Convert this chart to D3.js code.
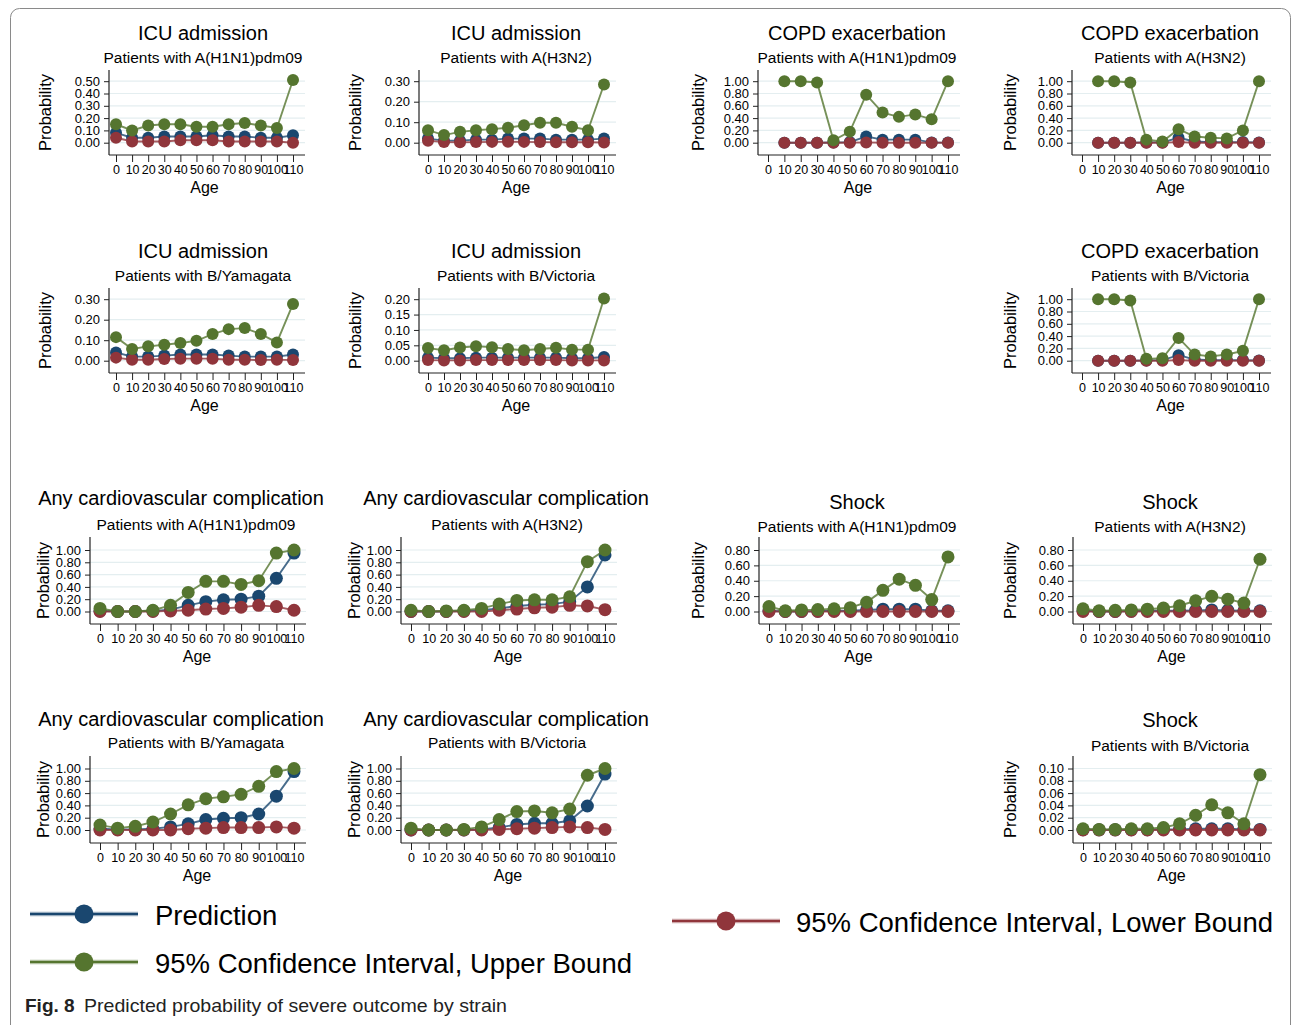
<!DOCTYPE html>
<html>
<head>
<meta charset="utf-8">
<script src="https://cdn.jsdelivr.net/npm/d3@7"></script>
<style>
  html, body { margin: 0; padding: 0; background: #fff; }
  svg { display: block; }
  text { font-family: "Liberation Sans", Arial, sans-serif; fill: #000; }
</style>
</head>
<body>
<svg id="fig" width="1292" height="1025"></svg>
<script>
// Age points on the x axis
const ages = [0, 10, 20, 30, 40, 50, 60, 70, 80, 90, 100, 110];
const ageTickLabels = ["0", "10", "20", "30", "40", "50", "60", "70", "80", "90", "100", "110"];

// ICU admission
const icuH1N1Pred  = [0.08, 0.04, 0.04, 0.05, 0.05, 0.05, 0.06, 0.05, 0.05, 0.04, 0.04, 0.06];
const icuH1N1Lower = [0.04, 0.01, 0.01, 0.01, 0.02, 0.02, 0.02, 0.01, 0.01, 0.01, 0.01, 0.00];
const icuH1N1Upper = [0.15, 0.10, 0.14, 0.15, 0.15, 0.13, 0.13, 0.15, 0.16, 0.14, 0.12, 0.51];

const icuH3N2Pred  = [0.020, 0.010, 0.010, 0.015, 0.015, 0.020, 0.020, 0.020, 0.015, 0.015, 0.015, 0.020];
const icuH3N2Lower = [0.010, 0.003, 0.002, 0.003, 0.004, 0.005, 0.004, 0.003, 0.002, 0.002, 0.002, 0.001];
const icuH3N2Upper = [0.061, 0.037, 0.053, 0.061, 0.066, 0.073, 0.085, 0.097, 0.097, 0.078, 0.061, 0.284];

const icuYamPred  = [0.040, 0.020, 0.020, 0.025, 0.030, 0.030, 0.030, 0.025, 0.020, 0.020, 0.020, 0.030];
const icuYamLower = [0.015, 0.005, 0.005, 0.008, 0.010, 0.010, 0.010, 0.005, 0.005, 0.003, 0.005, 0.003];
const icuYamUpper = [0.115, 0.057, 0.070, 0.078, 0.086, 0.097, 0.130, 0.154, 0.159, 0.130, 0.089, 0.277];

const icuVicPred  = [0.010, 0.008, 0.008, 0.010, 0.010, 0.010, 0.010, 0.010, 0.010, 0.008, 0.008, 0.012];
const icuVicLower = [0.002, 0.001, 0.001, 0.002, 0.002, 0.002, 0.002, 0.002, 0.002, 0.001, 0.001, 0.001];
const icuVicUpper = [0.041, 0.034, 0.043, 0.047, 0.044, 0.038, 0.034, 0.038, 0.042, 0.036, 0.036, 0.202];

// COPD exacerbation (no estimate at age 0)
const copdH1N1Pred  = [null, 0, 0, 0, 0.003, 0.010, 0.100, 0.050, 0.050, 0.050, 0.005, 0.002];
const copdH1N1Lower = [null, 0, 0, 0, 0, 0, 0.005, 0, 0, 0, 0, 0];
const copdH1N1Upper = [null, 1.00, 1.00, 0.98, 0.04, 0.18, 0.78, 0.49, 0.42, 0.46, 0.38, 1.00];

const copdH3N2Pred  = [null, 0, 0, 0, 0.005, 0.005, 0.080, 0.020, 0.010, 0.010, 0.010, 0.003];
const copdH3N2Lower = [null, 0, 0, 0, 0, 0, 0.010, 0, 0, 0, 0, 0];
const copdH3N2Upper = [null, 1.00, 1.00, 0.98, 0.05, 0.02, 0.22, 0.10, 0.08, 0.07, 0.20, 1.00];

const copdVicPred  = [null, 0, 0, 0, 0.005, 0.010, 0.090, 0.020, 0.010, 0.010, 0.010, 0.003];
const copdVicLower = [null, 0, 0, 0, 0, 0, 0.010, 0, 0, 0, 0, 0];
const copdVicUpper = [null, 1.00, 1.00, 0.98, 0.03, 0.04, 0.37, 0.10, 0.07, 0.10, 0.16, 1.00];

// Any cardiovascular complication
const cvH1N1Pred  = [0.01, 0.00, 0.00, 0.01, 0.03, 0.10, 0.16, 0.19, 0.20, 0.25, 0.54, 0.95];
const cvH1N1Lower = [0.00, 0.00, 0.00, 0.00, 0.01, 0.02, 0.04, 0.05, 0.07, 0.10, 0.08, 0.02];
const cvH1N1Upper = [0.05, 0.00, 0.00, 0.02, 0.10, 0.31, 0.49, 0.49, 0.44, 0.50, 0.95, 1.00];

const cvH3N2Pred  = [0.00, 0.00, 0.00, 0.01, 0.02, 0.05, 0.09, 0.11, 0.12, 0.16, 0.40, 0.92];
const cvH3N2Lower = [0.00, 0.00, 0.00, 0.00, 0.00, 0.02, 0.04, 0.06, 0.07, 0.10, 0.09, 0.03];
const cvH3N2Upper = [0.02, 0.00, 0.01, 0.02, 0.05, 0.12, 0.18, 0.19, 0.19, 0.24, 0.81, 1.00];

const cvYamPred  = [0.02, 0.01, 0.01, 0.02, 0.05, 0.10, 0.17, 0.19, 0.20, 0.26, 0.55, 0.95];
const cvYamLower = [0.00, 0.00, 0.00, 0.00, 0.00, 0.02, 0.03, 0.04, 0.04, 0.04, 0.05, 0.03];
const cvYamUpper = [0.08, 0.03, 0.06, 0.13, 0.26, 0.41, 0.51, 0.54, 0.58, 0.71, 0.95, 1.00];

const cvVicPred  = [0.00, 0.00, 0.00, 0.00, 0.01, 0.04, 0.09, 0.11, 0.11, 0.15, 0.39, 0.91];
const cvVicLower = [0.00, 0.00, 0.00, 0.00, 0.00, 0.01, 0.02, 0.03, 0.04, 0.05, 0.04, 0.01];
const cvVicUpper = [0.03, 0.00, 0.00, 0.01, 0.05, 0.17, 0.30, 0.31, 0.28, 0.34, 0.89, 1.00];

// Shock
const shockH1N1Pred  = [0.010, 0.000, 0.000, 0.005, 0.010, 0.010, 0.020, 0.030, 0.030, 0.030, 0.010, 0.010];
const shockH1N1Lower = [0, 0, 0, 0, 0, 0, 0, 0, 0, 0, 0, 0];
const shockH1N1Upper = [0.065, 0.010, 0.020, 0.025, 0.035, 0.050, 0.120, 0.275, 0.420, 0.340, 0.155, 0.710];

const shockH3N2Pred  = [0.010, 0.000, 0.000, 0.005, 0.010, 0.010, 0.010, 0.015, 0.020, 0.015, 0.010, 0.010];
const shockH3N2Lower = [0, 0, 0, 0, 0, 0, 0, 0, 0, 0, 0, 0];
const shockH3N2Upper = [0.035, 0.010, 0.015, 0.020, 0.030, 0.045, 0.075, 0.140, 0.197, 0.160, 0.110, 0.680];

const shockVicPred  = [0.0005, 0.0003, 0.0003, 0.0005, 0.0005, 0.0010, 0.0010, 0.0020, 0.0020, 0.0020, 0.0010, 0.0010];
const shockVicLower = [0, 0, 0, 0, 0, 0, 0, 0, 0, 0, 0, 0];
const shockVicUpper = [0.002, 0.001, 0.001, 0.002, 0.002, 0.004, 0.010, 0.024, 0.041, 0.028, 0.010, 0.090];

// Series names (legend order)
const seriesNames = ["Prediction", "95% Confidence Interval, Upper Bound", "95% Confidence Interval, Lower Bound"];
const captionBold = "Fig. 8";
const captionText = "Predicted probability of severe outcome by strain";

// Panels: outcome, strain, grid slot, y-axis top tick and step
const panels = [
  { title: "ICU admission", sub: "Patients with A(H1N1)pdm09", row: 0, col: 0, yMax: 0.50, yStep: 0.10, pred: icuH1N1Pred, lower: icuH1N1Lower, upper: icuH1N1Upper },
  { title: "ICU admission", sub: "Patients with A(H3N2)",      row: 0, col: 1, yMax: 0.30, yStep: 0.10, pred: icuH3N2Pred, lower: icuH3N2Lower, upper: icuH3N2Upper },
  { title: "COPD exacerbation", sub: "Patients with A(H1N1)pdm09", row: 0, col: 2, yMax: 1.00, yStep: 0.20, pred: copdH1N1Pred, lower: copdH1N1Lower, upper: copdH1N1Upper },
  { title: "COPD exacerbation", sub: "Patients with A(H3N2)",      row: 0, col: 3, yMax: 1.00, yStep: 0.20, pred: copdH3N2Pred, lower: copdH3N2Lower, upper: copdH3N2Upper },
  { title: "ICU admission", sub: "Patients with B/Yamagata", row: 1, col: 0, yMax: 0.30, yStep: 0.10, pred: icuYamPred, lower: icuYamLower, upper: icuYamUpper },
  { title: "ICU admission", sub: "Patients with B/Victoria", row: 1, col: 1, yMax: 0.20, yStep: 0.05, pred: icuVicPred, lower: icuVicLower, upper: icuVicUpper },
  { title: "COPD exacerbation", sub: "Patients with B/Victoria", row: 1, col: 3, yMax: 1.00, yStep: 0.20, pred: copdVicPred, lower: copdVicLower, upper: copdVicUpper },
  { title: "Any cardiovascular complication", sub: "Patients with A(H1N1)pdm09", row: 2, col: 0, yMax: 1.00, yStep: 0.20, pred: cvH1N1Pred, lower: cvH1N1Lower, upper: cvH1N1Upper },
  { title: "Any cardiovascular complication", sub: "Patients with A(H3N2)",      row: 2, col: 1, yMax: 1.00, yStep: 0.20, pred: cvH3N2Pred, lower: cvH3N2Lower, upper: cvH3N2Upper },
  { title: "Shock", sub: "Patients with A(H1N1)pdm09", row: 2, col: 2, yMax: 0.80, yStep: 0.20, pred: shockH1N1Pred, lower: shockH1N1Lower, upper: shockH1N1Upper },
  { title: "Shock", sub: "Patients with A(H3N2)",      row: 2, col: 3, yMax: 0.80, yStep: 0.20, pred: shockH3N2Pred, lower: shockH3N2Lower, upper: shockH3N2Upper },
  { title: "Any cardiovascular complication", sub: "Patients with B/Yamagata", row: 3, col: 0, yMax: 1.00, yStep: 0.20, pred: cvYamPred, lower: cvYamLower, upper: cvYamUpper },
  { title: "Any cardiovascular complication", sub: "Patients with B/Victoria", row: 3, col: 1, yMax: 1.00, yStep: 0.20, pred: cvVicPred, lower: cvVicLower, upper: cvVicUpper },
  { title: "Shock", sub: "Patients with B/Victoria", row: 3, col: 3, yMax: 0.10, yStep: 0.02, pred: shockVicPred, lower: shockVicLower, upper: shockVicUpper }
];

// ---------- layout ----------
const COLORS = { pred: "#1a476f", lower: "#90353b", upper: "#55752f" };
const PLOT_H = 61.5; // pixels between zero and the top tick

const rowGeom = [
  { axisTop: 70,  zeroY: 142.7, xAxisY: 155, titleY: [33, 33, 33, 33],     subY: [57, 57, 57, 57] },
  { axisTop: 288, zeroY: 360.7, xAxisY: 373, titleY: [251, 251, 251, 251], subY: [275, 275, 275, 275] },
  { axisTop: 537, zeroY: 611.5, xAxisY: 624, titleY: [498, 498, 502, 502], subY: [524, 524, 526, 526] },
  { axisTop: 756, zeroY: 830,   xAxisY: 843, titleY: [719, 719, 720, 720], subY: [742, 742, 745, 745] }
];
const colGeomTop = {
  axisX: [109, 419, 758, 1072], x0: [116, 428, 768, 1082], x1: [293, 604, 948, 1259],
  probX: [45, 355, 698, 1010], titleX: [203, 516, 857, 1170], subX: [203, 516, 857, 1170]
};
const colGeomBottom = {
  axisX: [90, 401, 759, 1073], x0: [100, 411, 769, 1083], x1: [294, 605, 948, 1260],
  probX: [43, 354, 698, 1010], titleX: [181, 506, 857, 1170], subX: [196, 507, 857, 1170]
};

const svg = d3.select("#fig");

// figure frame
svg.append("rect")
  .attr("x", 10.5).attr("y", 8.5).attr("width", 1280).attr("height", 1040)
  .attr("rx", 9).attr("fill", "none").attr("stroke", "#8a8a8a").attr("stroke-width", 1);

const fmt = d3.format(".2f");

panels.forEach(p => {
  const rg = rowGeom[p.row];
  const cg = p.row < 2 ? colGeomTop : colGeomBottom;
  const c = p.col;
  const axisX = cg.axisX[c];
  const x = d3.scaleLinear().domain([0, 110]).range([cg.x0[c], cg.x1[c]]);
  const y = d3.scaleLinear().domain([0, p.yMax]).range([rg.zeroY, rg.zeroY - PLOT_H]);
  const xEnd = cg.x1[c] + 12;
  const g = svg.append("g");

  const yTicks = d3.range(0, p.yMax + p.yStep / 2, p.yStep);

  // grid lines
  g.selectAll("line.grid").data(yTicks).join("line")
    .attr("x1", axisX).attr("x2", xEnd)
    .attr("y1", d => y(d)).attr("y2", d => y(d))
    .attr("stroke", "#e4eef0").attr("stroke-width", 1.2);

  // y axis
  const yAxis = d3.axisLeft(y).tickValues(yTicks).tickFormat(fmt).tickSize(5).tickPadding(4);
  const ya = g.append("g").attr("transform", `translate(${axisX},0)`).call(yAxis);
  ya.select(".domain").remove();
  ya.selectAll(".tick line").attr("stroke", "#222");
  ya.selectAll(".tick text").attr("font-size", 13).attr("font-family", "Liberation Sans, Arial, sans-serif").attr("fill", "#000");
  g.append("line").attr("x1", axisX).attr("x2", axisX).attr("y1", rg.axisTop).attr("y2", rg.xAxisY)
    .attr("stroke", "#222").attr("stroke-width", 1.2);

  // x axis
  const xAxis = d3.axisBottom(x).tickValues(ages).tickFormat((d, i) => ageTickLabels[i]).tickSize(7).tickPadding(3);
  const xa = g.append("g").attr("transform", `translate(0,${rg.xAxisY})`).call(xAxis);
  xa.select(".domain").remove();
  xa.selectAll(".tick line").attr("stroke", "#222");
  xa.selectAll(".tick text").attr("font-size", 12.5).attr("font-family", "Liberation Sans, Arial, sans-serif").attr("fill", "#000");
  g.append("line").attr("x1", axisX).attr("x2", xEnd).attr("y1", rg.xAxisY).attr("y2", rg.xAxisY)
    .attr("stroke", "#222").attr("stroke-width", 1.2);

  // axis titles
  g.append("text").attr("x", (cg.x0[c] + cg.x1[c]) / 2).attr("y", rg.xAxisY + 32)
    .attr("text-anchor", "middle").attr("dominant-baseline", "central").attr("font-size", 16).text("Age");
  g.append("text")
    .attr("transform", `translate(${cg.probX[c]},${(rg.axisTop + rg.xAxisY) / 2}) rotate(-90)`)
    .attr("text-anchor", "middle").attr("dominant-baseline", "central").attr("font-size", 16.5).text("Probability");

  // titles
  g.append("text").attr("x", cg.titleX[c]).attr("y", rg.titleY[c])
    .attr("text-anchor", "middle").attr("dominant-baseline", "central").attr("font-size", 20).text(p.title);
  g.append("text").attr("x", cg.subX[c]).attr("y", rg.subY[c])
    .attr("text-anchor", "middle").attr("dominant-baseline", "central").attr("font-size", 15.5).text(p.sub);

  // series: prediction, lower bound, upper bound
  const r = p.row < 2 ? 6 : 6.5;
  [["pred", p.pred], ["lower", p.lower], ["upper", p.upper]].forEach(([key, vals]) => {
    const pts = ages.map((a, i) => ({ a, v: vals[i] }));
    const line = d3.line().defined(d => d.v != null).x(d => x(d.a)).y(d => y(d.v));
    g.append("path").datum(pts).attr("d", line)
      .attr("fill", "none").attr("stroke", COLORS[key]).attr("stroke-width", 1.9).attr("stroke-opacity", 0.8);
    g.selectAll(`circle.${key}`).data(pts.filter(d => d.v != null)).join("circle")
      .attr("class", key)
      .attr("cx", d => x(d.a)).attr("cy", d => y(d.v)).attr("r", r)
      .attr("fill", COLORS[key]);
  });
});

// ---------- legend ----------
const legendItems = [
  { key: "pred",  name: seriesNames[0], x1: 30,  x2: 138, y: 914, tx: 155 },
  { key: "upper", name: seriesNames[1], x1: 30,  x2: 138, y: 962, tx: 155 },
  { key: "lower", name: seriesNames[2], x1: 672, x2: 780, y: 921, tx: 796 }
];
const lg = svg.append("g");
legendItems.forEach(it => {
  lg.append("line").attr("x1", it.x1).attr("x2", it.x2).attr("y1", it.y).attr("y2", it.y)
    .attr("stroke", COLORS[it.key]).attr("stroke-opacity", 0.45).attr("stroke-width", 4.5);
  lg.append("line").attr("x1", it.x1).attr("x2", it.x2).attr("y1", it.y).attr("y2", it.y)
    .attr("stroke", COLORS[it.key]).attr("stroke-width", 2);
  lg.append("circle").attr("cx", (it.x1 + it.x2) / 2).attr("cy", it.y).attr("r", 9.5).attr("fill", COLORS[it.key]);
  lg.append("text").attr("x", it.tx).attr("y", it.y + 1).attr("dominant-baseline", "central")
    .attr("font-size", 27.5).text(it.name);
});

// ---------- caption ----------
svg.append("text").attr("x", 25).attr("y", 1005).attr("dominant-baseline", "central")
  .attr("font-family", "Lato, 'Noto Sans', sans-serif").attr("font-weight", "bold")
  .attr("font-size", 19).style("fill", "#222").text(captionBold);
svg.append("text").attr("x", 84).attr("y", 1005).attr("dominant-baseline", "central")
  .attr("font-family", "Lato, 'Noto Sans', sans-serif")
  .attr("font-size", 19).style("fill", "#222")
  .attr("textLength", 423).attr("lengthAdjust", "spacingAndGlyphs").text(captionText);
</script>
</body>
</html>
